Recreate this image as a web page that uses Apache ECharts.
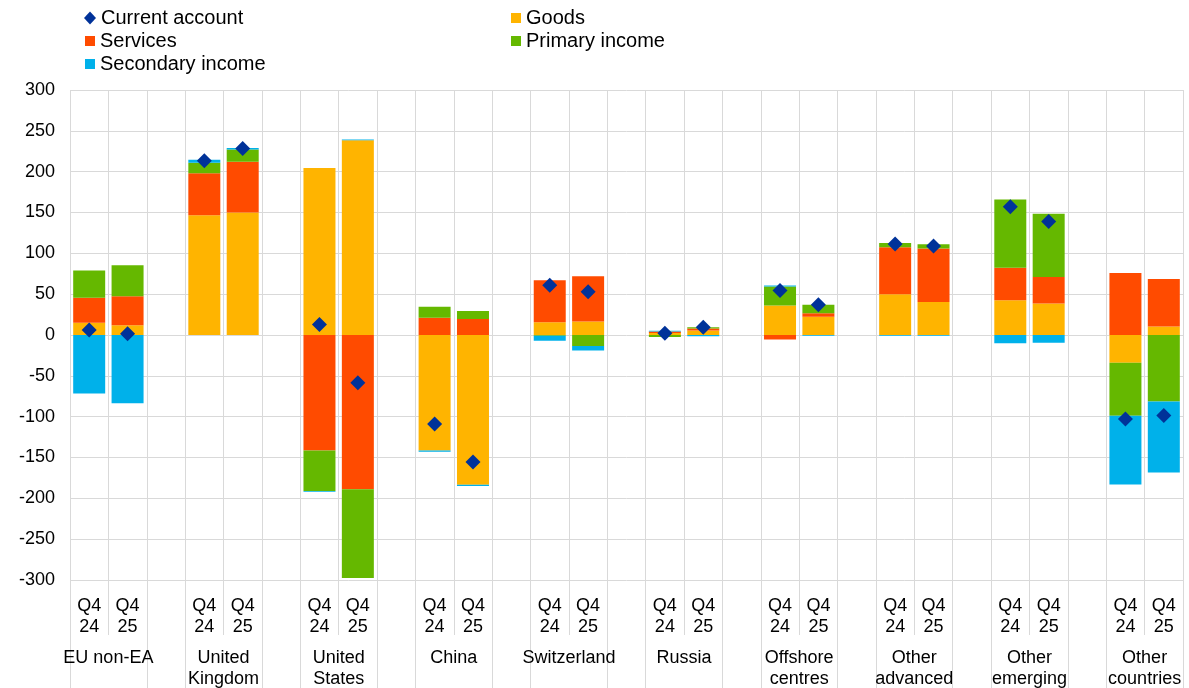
<!DOCTYPE html>
<html><head><meta charset="utf-8">
<script src="https://cdn.jsdelivr.net/npm/echarts@6/dist/echarts.min.js"></script>
<style>html,body{margin:0;padding:0;background:#fff}#c{width:1189px;height:688px}</style>
</head><body><div id="c"></div>
<script>
// ---- data (EUR billions), pairs per group: [Q4 24, Q4 25] ----
const groups = ['EU non-EA', 'United\nKingdom', 'United\nStates', 'China', 'Switzerland', 'Russia', 'Offshore\ncentres', 'Other\nadvanced', 'Other\nemerging', 'Other\ncountries'];
const periods = ['Q4\n24', 'Q4\n25'];
const goods     = [15, 12,   146.5, 150,   204.5, 238.5,  -141.5, -183.5,  15.5, 16.5,  2.5, 5.5,   36, 22.5,   50, 40.5,   42.5, 38.5,  -34, 10.5];
const services  = [30.5, 35.5, 51.5, 62,  -141.5, -189,    21, 19.5,      51.5, 55.5,  1.8, 2.4,   -5.5, 4,    57.5, 65.5, 40, 32.5,    76, 58];
const primary   = [33.5, 38,  13, 15,     -49.5, -108.5,   13.5, 10,      -1, -13.5,   -2.5, 1.6,  23.5, 10.5, 5.3, 5,     83.5, 77.5,  -65, -81.5];
const secondary = [-71.5, -83.5, 3.5, 2,  -0.8, 1,         -1.5, -1.5,    -6, -5.5,    0.8, -1.5,  1, -1,      -1, -1,     -10, -9.5,   -84, -87];
const current   = [6, 1.5,    213.5, 228.5, 13, -58.5,     -109, -155.5,  61, 53,      2, 9.5,     54.5, 37,   111.5, 109, 157, 139,    -103, -98.5];
const yMin = -300, yMax = 300, yStep = 50;

const colors = {current: '#003299', goods: '#FFB400', services: '#FF4B00', primary: '#65B800', secondary: '#00B1EA'};

function expand(arr) {
  const out = [];
  groups.forEach((g, i) => {
    out.push(arr[2 * i], arr[2 * i + 1]);
    if (i < groups.length - 1) out.push('-');
  });
  return out;
}
const cats = [];
groups.forEach((g, i) => { cats.push(periods[0], periods[1]); if (i < groups.length - 1) cats.push(''); });

const font = "'Liberation Sans', Arial, sans-serif";
const gridColor = '#d9d9d9';

function barSeries(name, arr, color) {
  return {
    name, type: 'bar', stack: 'total', xAxisIndex: 0, yAxisIndex: 0,
    barWidth: 32, data: expand(arr),
    itemStyle: {color, opacity: 1},
    emphasis: {disabled: true}
  };
}

function legendItem(name, left, top, icon, w, h) {
  return {
    data: [{name, icon}], left, top, padding: 0, itemWidth: w, itemHeight: h, itemGap: 0,
    textStyle: {fontFamily: font, fontSize: 20, color: '#000', lineHeight: 22},
    itemStyle: {opacity: 1},
    selectedMode: false
  };
}

const chart = echarts.init(document.getElementById('c'), null, {renderer: 'canvas'});
chart.setOption({
  animation: false,
  backgroundColor: '#fff',
  legend: [
    legendItem('Current account', 84, 7, 'diamond', 12, 13),
    legendItem('Services', 85, 30, 'rect', 10, 10),
    legendItem('Secondary income', 85, 53, 'rect', 10, 10),
    legendItem('Goods', 511, 7, 'rect', 10, 10),
    legendItem('Primary income', 511, 30, 'rect', 10, 10)
  ],
  grid: {left: 70, right: 6, top: 90, bottom: 108, outerBoundsMode: 'none'},
  xAxis: [
    {
      type: 'category', data: cats, position: 'bottom', gridIndex: 0,
      boundaryGap: true,
      axisLine: {show: false, onZero: false},
      axisTick: {show: true, interval: 0, length: 55, lineStyle: {color: gridColor}},
      splitLine: {show: true, interval: 0, lineStyle: {color: gridColor}},
      axisLabel: {interval: 0, margin: 16, fontFamily: font, fontSize: 18, lineHeight: 21, color: '#000'}
    },
    {
      type: 'category', data: cats, position: 'bottom', gridIndex: 0,
      boundaryGap: true,
      axisLine: {show: false, onZero: false},
      axisTick: {show: true, interval: (i) => i % 3 !== 1, length: 108, lineStyle: {color: gridColor}},
      splitLine: {show: false},
      axisLabel: {show: false}
    },
    {
      type: 'value', position: 'bottom', gridIndex: 0,
      min: 0, max: cats.length, interval: 1,
      axisLine: {show: false, onZero: false},
      axisTick: {show: false},
      splitLine: {show: false},
      axisLabel: {
        margin: 68, fontFamily: font, fontSize: 18, lineHeight: 21, color: '#000',
        showMinLabel: true, showMaxLabel: true,
        formatter: (v) => { const k = Math.round(v) - 1; return (k >= 0 && k % 3 === 0) ? groups[k / 3] : ''; }
      }
    }
  ],
  yAxis: {
    type: 'value', min: yMin, max: yMax, interval: yStep,
    axisLine: {show: false}, axisTick: {show: false},
    splitLine: {lineStyle: {color: gridColor}},
    axisLabel: {margin: 15, fontFamily: font, fontSize: 18, color: '#000'}
  },
  series: [
    {
      name: 'Current account', type: 'scatter', xAxisIndex: 0, yAxisIndex: 0,
      symbol: 'diamond', symbolSize: 15, z: 5,
      data: expand(current), itemStyle: {color: colors.current, opacity: 1}, emphasis: {disabled: true}
    },
    barSeries('Goods', goods, colors.goods),
    barSeries('Services', services, colors.services),
    barSeries('Primary income', primary, colors.primary),
    barSeries('Secondary income', secondary, colors.secondary)
  ]
});
</script>
</body></html>
